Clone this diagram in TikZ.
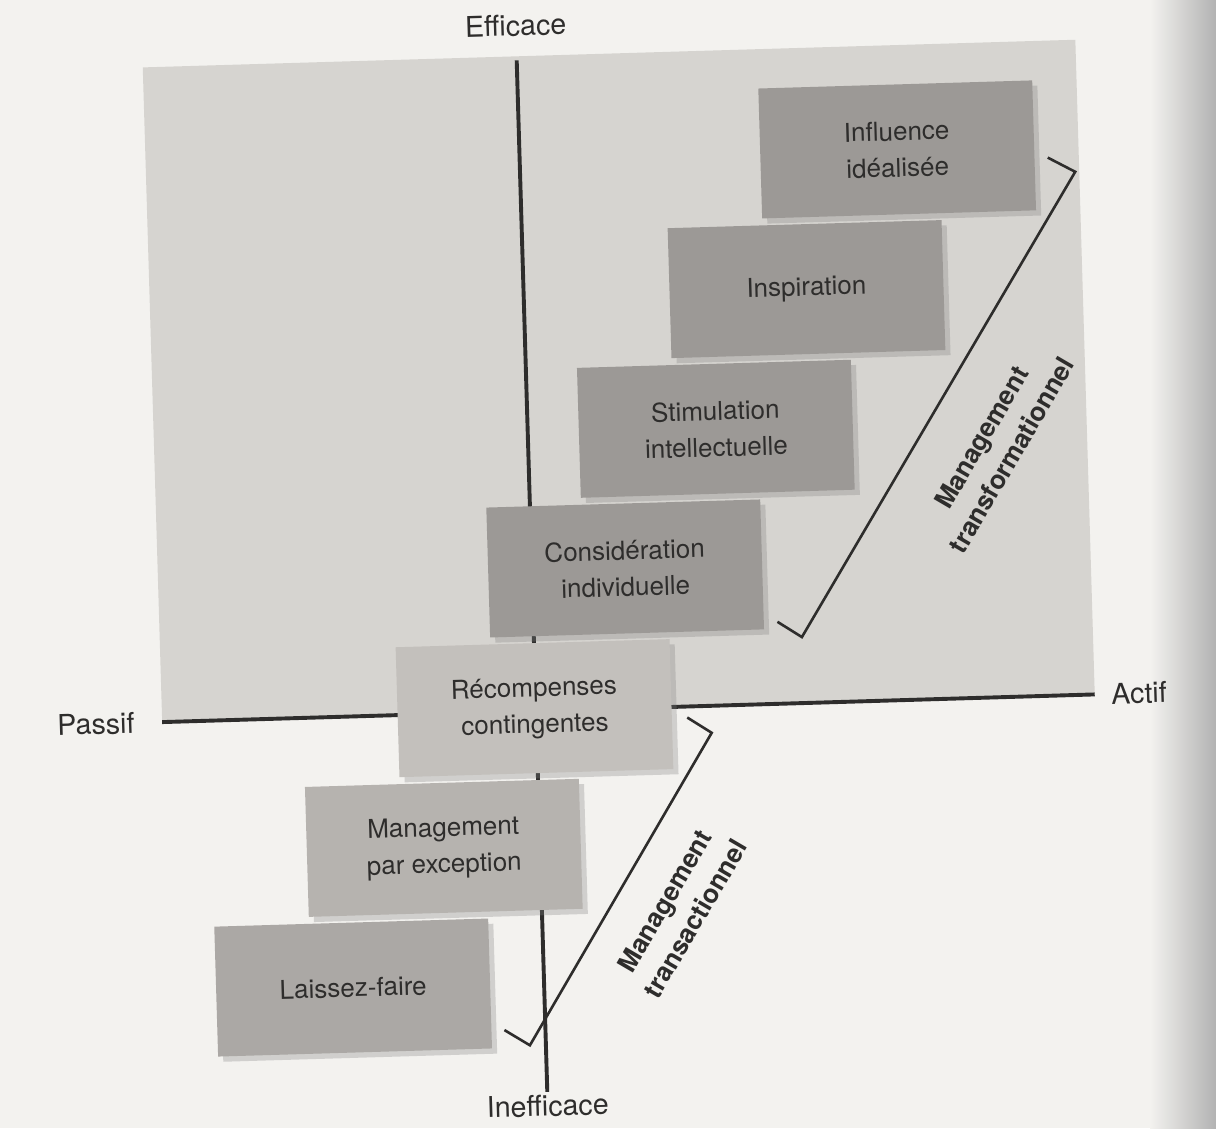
\documentclass[tikz,border=0pt]{standalone}
\usepackage{fontspec}
\setmainfont{TeX Gyre Heros}
\usetikzlibrary{positioning,shadows}
\definecolor{page}{HTML}{F3F2EF}
\definecolor{quadrant}{HTML}{D6D4D0}
\definecolor{ink}{HTML}{2E2D2C}
\definecolor{darkbox}{HTML}{9C9996}
\definecolor{boxA}{HTML}{C3C0BC}
\definecolor{boxB}{HTML}{B6B3AF}
\definecolor{boxC}{HTML}{ABA8A5}

\begin{document}
\begin{tikzpicture}[x=0.0135cm, y=-0.0135cm,
  levelbox/.style={fill=#1, minimum width=3.7cm, minimum height=1.755cm, align=center, text=ink,
    font=\fontsize{10}{14}\selectfont,
    drop shadow={shadow xshift=0.07cm, shadow yshift=-0.07cm, opacity=0.3}},
  axisline/.style={line width=1.5pt, draw=ink},
  axislabel/.style={font=\fontsize{11}{13}\selectfont, text=ink},
  bracket/.style={line width=1pt, draw=ink},
  bracketlabel/.style={font=\bfseries\fontsize{10}{13.5}\selectfont, align=center, rotate=58, text=ink}]
\useasboundingbox (0,0) rectangle (1216,1128);
\fill[page] (0,0) rectangle (1216,1128);
\shade[left color=page, right color=black!30] (1150,0) rectangle (1216,1128);

\begin{scope}[rotate around={1.7:(536,711)}, transform shape]
% upper quadrant
\fill[quadrant] (162,56) rectangle (1095,711);

% axes
\coordinate (top) at (536,60);
\coordinate (bottom) at (536,1092);
\coordinate (left) at (162,711);
\coordinate (right) at (1095,711);
\draw[axisline] (top) -- (bottom);
\draw[axisline] (left) -- (right);
\node (efficace) [axislabel, above=0.2cm of top] {Efficace};
\node (inefficace) [axislabel, below=-0.08cm of bottom] {Inefficace};
\node (passif) [axislabel, left=0.25cm of left] {Passif};
\node (actif) [axislabel, right=0.1cm of right] {Actif};

% staircase
\node (laissez) [levelbox=boxC] at (345,982) {Laissez-faire};
\node (exception) [levelbox=boxB, above=0.08cm of laissez, xshift=1.28cm] {Management\\par exception};
\node (recompenses) [levelbox=boxA, above=0.08cm of exception, xshift=1.28cm] {Récompenses\\contingentes};
\node (consideration) [levelbox=darkbox, above=0.08cm of recompenses, xshift=1.28cm] {Considération\\individuelle};
\node (stimulation) [levelbox=darkbox, above=0.08cm of consideration, xshift=1.28cm] {Stimulation\\intellectuelle};
\node (inspiration) [levelbox=darkbox, above=0.08cm of stimulation, xshift=1.28cm] {Inspiration};
\node (influence) [levelbox=darkbox, above=0.08cm of inspiration, xshift=1.28cm] {Influence\\idéalisée};

% brackets
\coordinate (tf1) at (1064,173);
\coordinate (tf2) at (1091,188);
\coordinate (tf3) at (804,645);
\coordinate (tf4) at (780,629);
\draw[bracket] (tf1) -- (tf2) -- (tf3) -- (tf4);
\node (transfo) [bracketlabel] at (1004,460) {Management\\transformationnel};

\coordinate (ta1) at (687,722);
\coordinate (ta2) at (711,738);
\coordinate (ta3) at (520,1045);
\coordinate (ta4) at (495,1029);
\draw[bracket] (ta1) -- (ta2) -- (ta3) -- (ta4);
\node (transac) [bracketlabel] at (674,914) {Management\\transactionnel};
\end{scope}
\end{tikzpicture}
\end{document}
